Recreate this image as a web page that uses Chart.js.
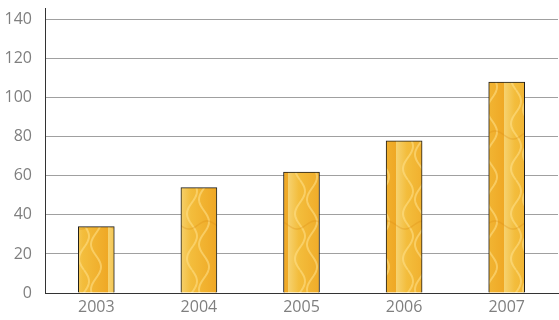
<!DOCTYPE html>
<html>
<head>
<meta charset="utf-8">
<script src="https://cdn.jsdelivr.net/npm/chart.js@4"></script>
<style>
  html, body { margin: 0; padding: 0; background: #fff; }
  #wrap { width: 559px; height: 320px; }
</style>
</head>
<body>
<div id="wrap"><canvas id="chart" width="559" height="320"></canvas></div>
<script>
// data
const years = ['2003', '2004', '2005', '2006', '2007'];
const values = [34, 54, 62, 78, 108];
const yTicks = [0, 20, 40, 60, 80, 100, 120, 140];

// golden texture for the bars, drawn once on a small canvas
function makeGold() {
    const c = document.createElement('canvas');
    c.width = 36; c.height = 90;
    const g = c.getContext('2d');
    const grad = g.createLinearGradient(0, 0, 36, 0);
    grad.addColorStop(0, '#f6d270');
    grad.addColorStop(0.3, '#f3bd3c');
    grad.addColorStop(1, '#efa825');
    g.fillStyle = grad;
    g.fillRect(0, 0, 36, 90);
    g.strokeStyle = 'rgba(255,225,140,0.55)';
    g.lineWidth = 2;
    for (let k = 0; k < 2; k++) {
        g.beginPath();
        for (let y = 0; y <= 90; y += 2) {
            const x = 12 + k * 12 + 5 * Math.sin(y / 7.16 + k * 2);
            if (y === 0) g.moveTo(x, y); else g.lineTo(x, y);
        }
        g.stroke();
    }
    g.strokeStyle = 'rgba(220,140,20,0.3)';
    g.lineWidth = 1.5;
    g.beginPath();
    for (let x = 0; x <= 36; x += 2) {
        const y = 45 + 4 * Math.sin(x / 5.73);
        if (x === 0) g.moveTo(x, y); else g.lineTo(x, y);
    }
    g.stroke();
    return g.createPattern(c, 'repeat');
}

const ctx = document.getElementById('chart').getContext('2d');
new Chart(ctx, {
    type: 'bar',
    data: {
        labels: years,
        datasets: [{
            data: values,
            backgroundColor: makeGold(),
            borderColor: '#1a1a1a',
            borderWidth: 1,
            barThickness: 36
        }]
    },
    options: {
        responsive: false,
        animation: false,
        layout: { padding: { top: 8, right: 1, left: 4, bottom: 3 } },
        plugins: {
            legend: { display: false },
            tooltip: { enabled: false }
        },
        scales: {
            x: {
                grid: { display: false, drawTicks: false },
                border: { color: '#333', width: 1 },
                ticks: { color: '#7f7f7f', font: { family: 'Open Sans', size: 16 }, padding: 5 },
                afterFit: function (axis) {
                    axis.height = 24;
                    axis.paddingLeft = 0;
                    axis.paddingRight = 0;
                }
            },
            y: {
                min: 0,
                max: 146,
                afterBuildTicks: function (axis) {
                    axis.ticks = yTicks.map(v => ({ value: v }));
                },
                afterFit: function (axis) {
                    // keep the plot where the reference has it
                    axis.width = 41;
                    axis.paddingTop = 0;
                    axis.paddingBottom = 0;
                },
                grid: { color: '#a0a0a0', drawTicks: false },
                border: { color: '#333', width: 1 },
                ticks: { color: '#7f7f7f', font: { family: 'Open Sans', size: 16 }, padding: 13 }
            }
        }
    }
});
</script>
</body>
</html>
